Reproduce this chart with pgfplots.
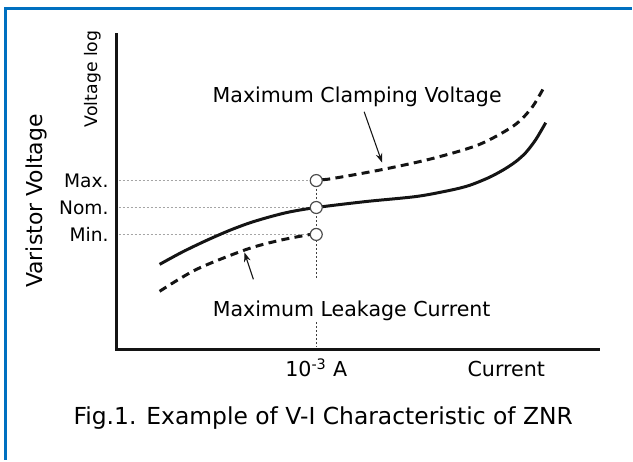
\documentclass[border=0pt]{standalone}
\usepackage{fontspec}
\setmainfont{DejaVu Sans}
\usepackage{pgfplots}
\pgfplotsset{compat=1.18}
\usetikzlibrary{arrows.meta}
\definecolor{frameblue}{RGB}{0,112,192}
\definecolor{guidegray}{RGB}{165,165,165}
\definecolor{curveblack}{RGB}{20,20,20}
\begin{document}
\begin{tikzpicture}
\begin{axis}[
  scale only axis,
  width=362.25pt, height=236.25pt,
  xmin=117, xmax=600, ymin=111, ymax=426,
  axis lines=left,
  axis line style={-, line width=2.25pt, curveblack, line cap=rect},
  xtick={317,507.5},
  xticklabels={10\textsuperscript{-3} A, Current},
  ytick={226,253,280},
  yticklabels={Min.,Nom.,Max.},
  major tick length=0pt,
  xticklabel style={font=\fontsize{15.5}{18}\selectfont, anchor=base, inner sep=0pt, yshift=-20.25pt},
  yticklabel style={font=\fontsize{14}{16}\selectfont, anchor=east, inner sep=0pt, xshift=-6pt},
  clip=false,
]
% canvas
\path (axis cs:0,0) rectangle (axis cs:633,461);
% blue frame
\draw[frameblue, line width=2.25pt, line join=miter] (axis cs:633,452.5) -- (axis cs:5.5,452.5) -- (axis cs:5.5,0);
% guide lines
\addplot[guidegray, line width=1.1pt, dash pattern=on 1.5pt off 1.5pt] coordinates {(119,280) (311,280)};
\addplot[guidegray, line width=1.1pt, dash pattern=on 1.5pt off 1.5pt] coordinates {(119,253) (311,253)};
\addplot[guidegray, line width=1.1pt, dash pattern=on 1.5pt off 1.5pt] coordinates {(119,226) (311,226)};
\addplot[black!75, line width=1.1pt, dash pattern=on 1.5pt off 1.5pt] coordinates {(317,280) (317,181)};
\addplot[black!75, line width=1.1pt, dash pattern=on 1.5pt off 1.5pt] coordinates {(317,138) (317,113)};
% nominal curve
\addplot[curveblack, line width=2.25pt, smooth] coordinates {
 (160,196) (183,208.5) (207,220) (230,230) (250,237.5) (270,243.5) (290,248.5) (317,253)
 (367,259) (417,264) (450,270) (470,275) (490,283) (505,291) (517,299) (527,308) (537,321) (547,338)};
% maximum clamping voltage
\addplot[curveblack, line width=2.25pt, smooth, dash pattern=on 6pt off 4pt] coordinates {
 (323,281) (333,282) (383,291) (433,302) (480,316) (515,335) (533,353) (545,373)};
% maximum leakage current
\addplot[curveblack, line width=2.25pt, smooth, dash pattern=on 6pt off 4pt] coordinates {
 (160,169) (197,191) (247,211) (280,220) (311,226)};
% points
\addplot[only marks, mark=*, mark size=4.5pt, mark options={fill=white, draw=black!70, line width=0.9pt}] coordinates {(317,280) (317,253) (317,226)};
% arrows
\draw[curveblack, line width=0.8pt, -{Stealth[length=7pt, width=5pt]}] (axis cs:365,349) -- (axis cs:383,298);
\draw[curveblack, line width=0.8pt, -{Stealth[length=7pt, width=5pt]}] (axis cs:254,181) -- (axis cs:245,208);
% texts
\node[font=\fontsize{15.45}{18}\selectfont, anchor=base, inner sep=0pt] at (axis cs:358,358) {Maximum Clamping Voltage};
\node[font=\fontsize{15.45}{18}\selectfont, anchor=base, inner sep=0pt, fill=white, inner xsep=0pt] at (axis cs:352.5,144) {Maximum Leakage Current};
\node[font=\fontsize{17.6}{20}\selectfont, anchor=base, inner sep=0pt] at (axis cs:324,35) {Fig.1. Example of V-I Characteristic of ZNR};
\node[font=\fontsize{16.5}{19}\selectfont, anchor=base, inner sep=0pt, rotate=90] at (axis cs:43,259.5) {Varistor Voltage};
\node[font=\fontsize{13}{15}\selectfont, anchor=base, inner sep=0pt, rotate=90] at (axis cs:98,382) {Voltage log};
\end{axis}
\end{tikzpicture}
\end{document}
